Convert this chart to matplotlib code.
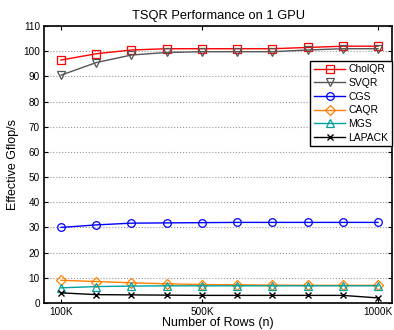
import matplotlib
matplotlib.use("Agg")
import matplotlib.pyplot as plt

plt.rcParams['font.family'] = ['Liberation Sans', 'DejaVu Sans']

rows = [100, 200, 300, 400, 500, 600, 700, 800, 900, 1000]
tick_pos = [100, 500, 1000]
tick_labels = ['100K', '500K', '1000K']

cholqr = [96.5, 99, 100.5, 101, 101, 101, 101, 101.5, 102, 102]
svqr = [90.5, 95.5, 98.5, 99.5, 99.8, 99.8, 99.8, 100.5, 101, 101]
cgs = [30, 31, 31.7, 31.8, 31.9, 32, 32, 32, 32, 32]
caqr = [9, 8.5, 8, 7.6, 7.3, 7.2, 7.1, 7, 7, 7]
mgs = [6, 6.5, 6.7, 6.8, 6.8, 6.8, 6.8, 6.8, 6.8, 6.8]
lapack = [4, 3.3, 3.2, 3.1, 3, 3, 3, 3, 3, 2]

fig = plt.figure(figsize=(3.94, 3.30), dpi=100)
ax = fig.add_axes([0.112, 0.082, 0.883, 0.839])

kw = dict(markersize=5.5, markerfacecolor='none', linewidth=1, markeredgewidth=0.9)
ax.plot(rows, cholqr, color='red', marker='s', label='CholQR', **kw)
ax.plot(rows, svqr, color='#555555', marker='v', label='SVQR', **kw)
ax.plot(rows, cgs, color='blue', marker='o', label='CGS', **kw)
ax.plot(rows, caqr, color='#ff8000', marker='D', label='CAQR', **kw)
ax.plot(rows, mgs, color='#00a0a0', marker='^', label='MGS', **kw)
ax.plot(rows, lapack, color='black', marker='x', label='LAPACK',
        markersize=4, linewidth=1)

ax.set_xlim(52, 1040)
ax.set_ylim(0, 110)
ax.set_xticks(tick_pos)
ax.set_xticklabels(tick_labels)
ax.set_yticks(range(0, 111, 10))
ax.tick_params(direction='in', top=True, right=True, labelsize=7.2, length=3, pad=3)
ax.yaxis.grid(True, linestyle=':', color='#999999', linewidth=0.8)
ax.set_axisbelow(True)
for s in ax.spines.values():
    s.set_linewidth(1.2)

ax.set_title('TSQR Performance on 1 GPU', fontsize=9.3, pad=5)
ax.set_xlabel('Number of Rows (n)', fontsize=9, labelpad=0)
ax.set_ylabel('Effective Gflop/s', fontsize=9, labelpad=3)

leg = ax.legend(loc='upper right', bbox_to_anchor=(1.0, 0.875), fontsize=7.5,
                fancybox=False, framealpha=1, edgecolor='black',
                handlelength=3.0, borderpad=0.35, labelspacing=0.35,
                handletextpad=0.3, borderaxespad=0)
leg.get_frame().set_linewidth(1)

fig.savefig('out.png', dpi=100)
